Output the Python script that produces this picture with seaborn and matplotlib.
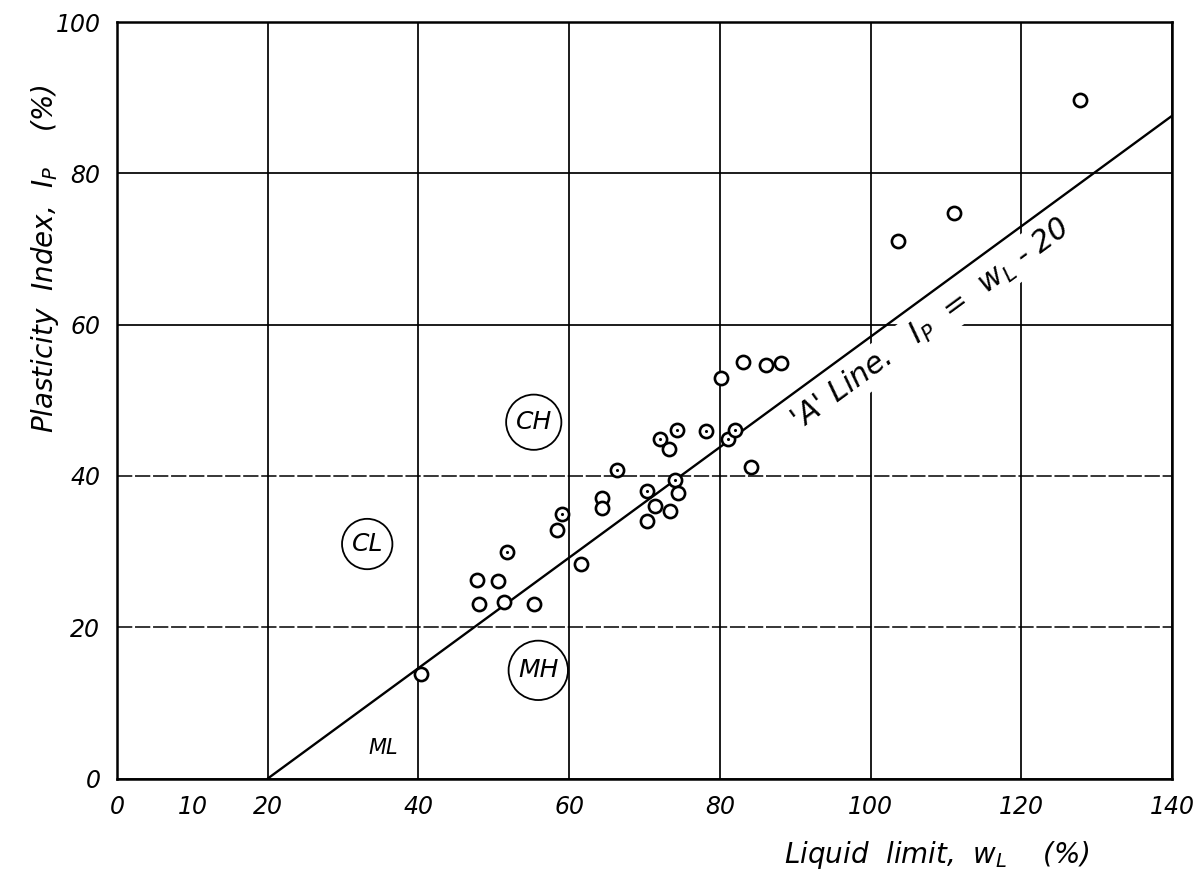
import numpy as np
import pandas as pd
import matplotlib
matplotlib.use("Agg")
import matplotlib.pyplot as plt
import seaborn as sns
from matplotlib.ticker import FixedLocator, FixedFormatter

# liquid limit / plasticity index of the samples
wl = [40.3, 47.8, 50.5, 48.1, 51.4, 51.7, 55.3, 58.4, 59.1, 61.6,
      64.3, 64.3, 66.4, 70.3, 74.0, 74.5, 71.4, 73.4, 70.3, 72.0,
      73.2, 74.3, 78.2, 80.1, 81.1, 82.0, 83.1, 86.1, 88.1, 84.1,
      103.7, 111.1, 127.8]
ip = [13.8, 26.3, 26.1, 23.1, 23.3, 29.9, 23.1, 32.8, 35.0, 28.3,
      37.1, 35.7, 40.8, 38.0, 39.5, 37.8, 36.0, 35.3, 34.1, 44.9,
      43.6, 46.1, 45.9, 52.9, 44.9, 46.1, 55.0, 54.7, 54.9, 41.2,
      71.1, 74.8, 89.7]
# circles drawn with a dot in the middle
dotted = [0, 0, 0, 0, 0, 1, 0, 0, 1, 0,
          0, 0, 1, 1, 1, 0, 0, 0, 0, 1,
          0, 1, 1, 0, 1, 1, 0, 0, 0, 0,
          0, 0, 0]

# 'A' line end points
a_wl = [20, 140]
a_ip = [0.0, 87.6]

# zone labels
zones = ["CL", "CH", "MH"]
zone_x = [33.2, 55.3, 55.9]
zone_y = [31.0, 47.1, 14.3]

x_major = [0, 20, 40, 60, 80, 100, 120, 140]
x_major_labels = ["0", "20", "40", "60", "80", "100", "120", "140"]
y_ticks = [0, 20, 40, 60, 80, 100]

df = pd.DataFrame({"wl": wl, "ip": ip, "dotted": dotted})
line_df = pd.DataFrame({"wl": a_wl, "ip": a_ip})

sns.set_style("white")
plt.rcParams["font.family"] = ["DejaVu Sans"]
plt.rcParams["mathtext.fontset"] = "dejavusans"
plt.rcParams["text.color"] = "black"
plt.rcParams["xtick.color"] = "black"
plt.rcParams["ytick.color"] = "black"

fig = plt.figure(figsize=(11.98, 8.81), dpi=100)
ax = fig.add_axes([0.0977, 0.1163, 0.8806, 0.8587])

sns.lineplot(data=line_df, x="wl", y="ip", color="black", lw=1.7, ax=ax, zorder=5)
sns.scatterplot(data=df, x="wl", y="ip", marker="o", s=90, facecolor="white",
                edgecolor="black", linewidth=1.9, ax=ax, zorder=6)
sns.scatterplot(data=df[df.dotted == 1], x="wl", y="ip", marker="o", s=5,
                color="black", linewidth=0, ax=ax, zorder=7)

ax.set_xlim(0, 140)
ax.set_ylim(0, 100)
ax.xaxis.set_major_locator(FixedLocator(x_major))
ax.xaxis.set_minor_locator(FixedLocator([10]))
ax.set_xticklabels(x_major_labels, style="italic")
ax.xaxis.set_minor_formatter(FixedFormatter(["10"]))
ax.set_yticks(y_ticks)
ax.set_yticklabels([str(v) for v in y_ticks], style="italic")
ax.tick_params(which="both", length=0, labelsize=17, pad=12)
for lab in ax.get_xticklabels(minor=True):
    lab.set_style("italic")

ax.grid(True, which="major", color="black", lw=1.25)
ax.grid(False, which="minor")
gl = ax.yaxis.get_gridlines()
for i in (1, 2):
    gl[i].set_linestyle((0, (10, 1.8)))
    gl[i].set_linewidth(1.1)
for s in ax.spines.values():
    s.set_color("black")
    s.set_linewidth(1.8)

ax.set_xlabel("")
ax.set_ylabel("")
ax.text(0.777, -0.101, "Liquid  limit,  $w_L$    (%)", transform=ax.transAxes,
        fontsize=20, style="italic", ha="center", va="center")
ax.text(-0.068, 0.688, "Plasticity  Index,  $I_P$    (%)", transform=ax.transAxes,
        fontsize=20, style="italic", ha="center", va="center", rotation=90)

for name, zx, zy in zip(zones, zone_x, zone_y):
    ax.text(zx, zy, name, fontsize=18, style="italic", ha="center", va="center",
            zorder=8, bbox=dict(boxstyle="circle,pad=0.38", fc="white",
                                ec="black", lw=1.3))
ax.text(35.3, 4.0, "ML", fontsize=15, style="italic", ha="center", va="center")

ax.text(107.9, 60.0, "'A' Line.   $I_P$  =  $w_L$ - 20", fontsize=21.5,
        style="italic", rotation=36.2, rotation_mode="anchor",
        ha="center", va="center", zorder=4,
        bbox=dict(boxstyle="square,pad=0.12", fc="white", ec="none"))

fig.savefig("out.png", dpi=100)
